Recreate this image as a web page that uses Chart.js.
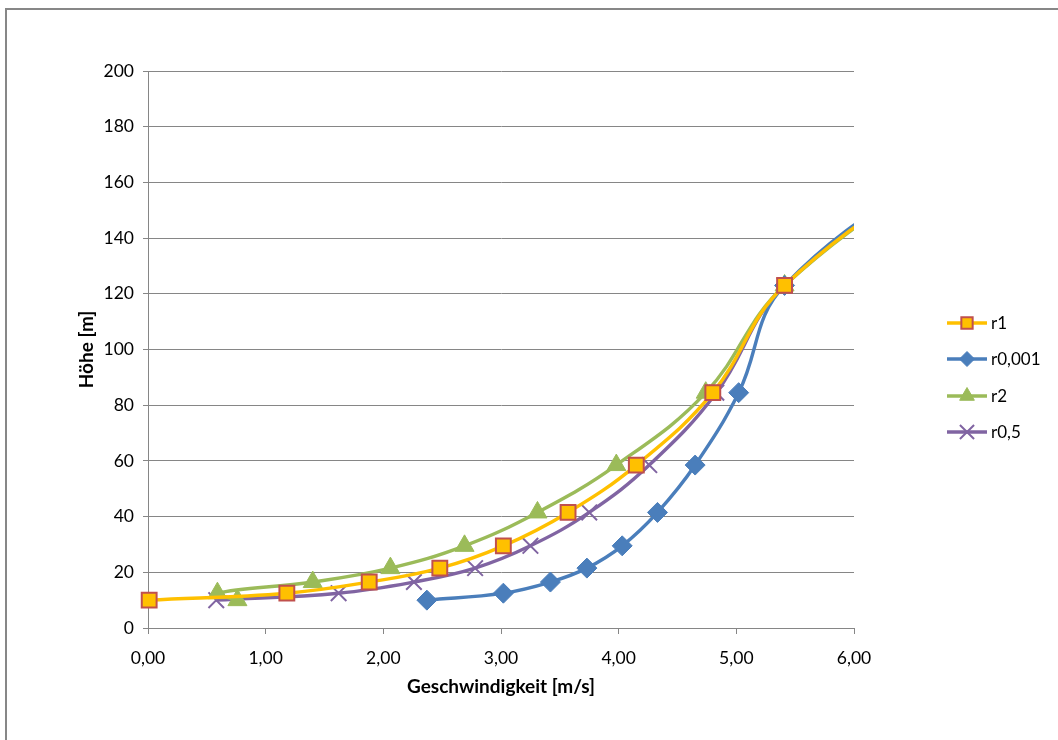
<!DOCTYPE html>
<html>
<head>
<meta charset="utf-8">
<script src="https://cdn.jsdelivr.net/npm/chart.js@4.4.1/dist/chart.umd.min.js"></script>
<style>
  html, body { margin: 0; padding: 0; background: #ffffff; }
  #frame { position: absolute; left: 5px; top: 8px; width: 1100px; height: 800px; border: 2px solid #878787; box-sizing: border-box; }
  #wrap { position: absolute; left: 0; top: 0; width: 1058px; height: 740px; }
</style>
</head>
<body>
<div id="frame"></div>
<div id="wrap"><canvas id="c" width="1058" height="740"></canvas></div>
<script>
// Heights (m) shared by all series; last point lies beyond the visible x range
const heights = [10, 12.5, 16.5, 21.5, 29.5, 41.5, 58.5, 84.5, 123, 176];
// Speeds (m/s) per series
const r1     = [0.01, 1.18, 1.88, 2.48, 3.02, 3.57, 4.15, 4.80, 5.41, 7.1];
const r0_001 = [2.37, 3.02, 3.42, 3.73, 4.03, 4.33, 4.65, 5.02, 5.41, 7.1];
const r2     = [0.76, 0.59, 1.40, 2.06, 2.69, 3.31, 3.98, 4.74, 5.41, 7.1];
const r0_5   = [0.58, 1.62, 2.26, 2.78, 3.25, 3.75, 4.26, 4.83, 5.41, 7.1];
const seriesNames = ['r1', 'r0,001', 'r2', 'r0,5'];
const xTicks = [0, 1, 2, 3, 4, 5, 6];
const yTicks = [0, 20, 40, 60, 80, 100, 120, 140, 160, 180, 200];

const toPts = xs => xs.map((x, i) => ({x: x, y: heights[i]}));
const FONT = 'Lato, "Open Sans", sans-serif';
const GRID = '#868686';

const styles = [
  {line: '#FFC000', fill: '#FFC000', border: '#C0504D', style: 'rect', r: 10.5, bw: 2, legR: 8},
  {line: '#4A7EBB', fill: '#4A7EBB', border: '#4A7EBB', style: 'rectRot', r: 10, bw: 1, legR: 7.5},
  {line: '#9BBB59', fill: '#9BBB59', border: '#9BBB59', style: 'triangle', r: 11, bw: 1, legR: 8.5},
  {line: '#8064A2', fill: '#8064A2', border: '#8064A2', style: 'crossRot', r: 11, bw: 2, legR: 10}
];
const allX = [r1, r0_001, r2, r0_5];

const datasets = allX.map((xs, i) => ({
  label: seriesNames[i],
  data: toPts(xs),
  showLine: true,
  borderColor: styles[i].line,
  borderWidth: 3.4,
  tension: 0.4,
  pointStyle: styles[i].style,
  pointRadius: styles[i].r,
  pointBackgroundColor: styles[i].fill,
  pointBorderColor: styles[i].border,
  pointBorderWidth: styles[i].bw,
  clip: {left: 14, top: 0, right: 0, bottom: 14}
}));

const legendPlugin = {
  id: 'customLegend',
  afterDraw(chart) {
    const ctx = chart.ctx;
    const ys = [323, 359, 396, 432];
    ctx.save();
    seriesNames.forEach((name, i) => {
      const y = ys[i];
      ctx.strokeStyle = styles[i].line;
      ctx.lineWidth = 3.4;
      ctx.beginPath();
      ctx.moveTo(947, y);
      ctx.lineTo(987, y);
      ctx.stroke();
      ctx.fillStyle = styles[i].fill;
      ctx.strokeStyle = styles[i].border;
      ctx.lineWidth = styles[i].bw;
      Chart.helpers.drawPoint(ctx, {pointStyle: styles[i].style, radius: styles[i].legR, rotation: 0, borderWidth: styles[i].bw}, 967, y);
      ctx.fillStyle = '#000000';
      ctx.font = '17px ' + FONT;
      ctx.textAlign = 'left';
      ctx.textBaseline = 'middle';
      ctx.fillText(name, 991, y + 1);
    });
    ctx.restore();
  }
};

new Chart(document.getElementById('c'), {
  type: 'scatter',
  data: {datasets},
  plugins: [legendPlugin],
  options: {
    responsive: false,
    animation: false,
    events: [],
    layout: {padding: {top: 71, right: 204, left: 0, bottom: 0}},
    elements: {line: {capBezierPoints: false}},
    plugins: {legend: {display: false}, tooltip: {enabled: false}},
    scales: {
      x: {
        type: 'linear', min: 0, max: 6,
        afterFit: s => { s.height = 112; },
        afterBuildTicks: s => { s.ticks = xTicks.map(v => ({value: v})); },
        ticks: {
          color: '#000000', font: {family: FONT, size: 17.5}, padding: 14,
          callback: v => v.toFixed(2).replace('.', ',')
        },
        grid: {drawOnChartArea: false, drawTicks: true, tickLength: 6, color: GRID, lineWidth: 1},
        border: {display: true, color: GRID, width: 1},
        title: {display: true, text: 'Geschwindigkeit [m/s]', color: '#000000',
                font: {family: FONT, size: 19, weight: 'bold'}, padding: {top: 0, bottom: 42}}
      },
      y: {
        type: 'linear', min: 0, max: 200,
        afterFit: s => { s.width = 148; },
        afterBuildTicks: s => { s.ticks = yTicks.map(v => ({value: v})); },
        ticks: {color: '#000000', font: {family: FONT, size: 17.5}, padding: 9},
        grid: {drawOnChartArea: true, drawTicks: true, tickLength: 5, color: GRID, lineWidth: 1},
        border: {display: true, color: GRID, width: 1},
        title: {display: true, text: 'Höhe [m]', color: '#000000',
                font: {family: FONT, size: 19, weight: 'bold'}, padding: {top: 75, bottom: 0}}
      }
    }
  }
});
</script>
</body>
</html>
